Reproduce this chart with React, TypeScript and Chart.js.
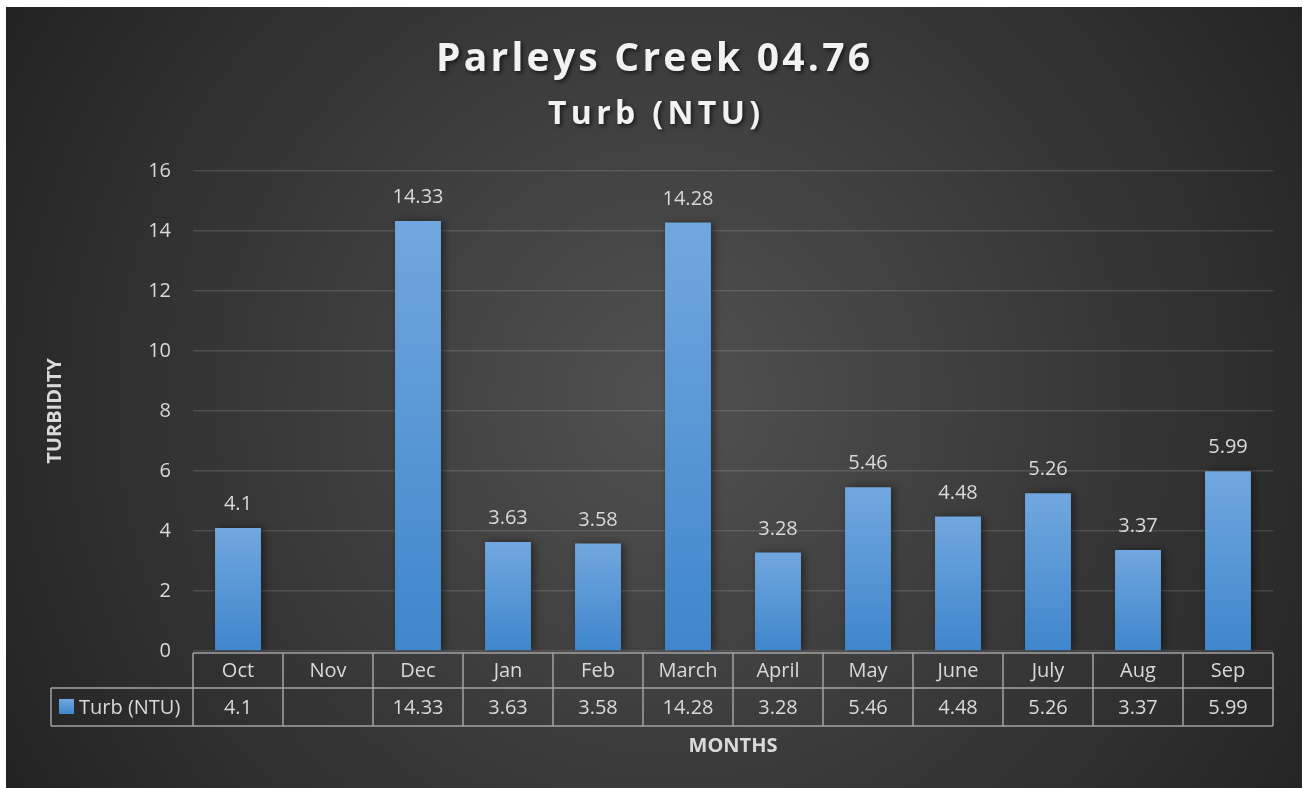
import React, { useEffect, useRef } from "react";
import { Chart, registerables } from "chart.js";

Chart.register(...registerables);

const months = ["Oct", "Nov", "Dec", "Jan", "Feb", "March", "April", "May", "June", "July", "Aug", "Sep"];
const turb: (number | null)[] = [4.1, null, 14.33, 3.63, 3.58, 14.28, 3.28, 5.46, 4.48, 5.26, 3.37, 5.99];
const seriesName = "Turb (NTU)";
const titleLine1 = "Parleys Creek 04.76";
const titleLine2 = "Turb (NTU)";
const yTitle = "TURBIDITY";
const xTitle = "MONTHS";
const yMin = 0;
const yMax = 16;
const yStep = 2;

const W = 1303;
const H = 788;
const FONT = "'Open Sans', 'DejaVu Sans', sans-serif";
const TEXT = "#d9d9d9";

function spacedText(ctx: CanvasRenderingContext2D, text: string, cx: number, y: number, target: number) {
  (ctx as any).letterSpacing = "0px";
  const w0 = ctx.measureText(text).width;
  const n = text.length;
  const sp = n > 1 ? Math.max(0, (target - w0) / (n - 1)) : 0;
  (ctx as any).letterSpacing = sp + "px";
  ctx.textAlign = "left";
  const w = w0 + sp * (n - 1);
  ctx.fillText(text, cx - w / 2, y);
  (ctx as any).letterSpacing = "0px";
}

function barGradient(ctx: CanvasRenderingContext2D, top: number, bottom: number) {
  const g = ctx.createLinearGradient(0, top, 0, bottom);
  g.addColorStop(0, "#71a7df");
  g.addColorStop(1, "#3f86cc");
  return g;
}

const framePlugin = {
  id: "frame",
  beforeDraw(chart: any) {
    const ctx: CanvasRenderingContext2D = chart.ctx;
    ctx.save();
    ctx.fillStyle = "#ffffff";
    ctx.fillRect(0, 0, W, H);
    const g = ctx.createRadialGradient(670, 400, 0, 670, 400, 780);
    g.addColorStop(0, "#515151");
    g.addColorStop(1, "#222222");
    ctx.fillStyle = g;
    ctx.fillRect(6, 7, W - 7, H - 7);

    ctx.fillStyle = "#f2f2f2";
    ctx.textBaseline = "alphabetic";
    ctx.shadowColor = "rgba(0,0,0,0.6)";
    ctx.shadowBlur = 4;
    ctx.shadowOffsetX = 2;
    ctx.shadowOffsetY = 2;
    ctx.font = `bold 39px ${FONT}`;
    spacedText(ctx, titleLine1, 653, 71, 434);
    ctx.font = `bold 32px ${FONT}`;
    spacedText(ctx, titleLine2, 654, 124, 212);
    ctx.restore();
  },
  beforeDatasetsDraw(chart: any) {
    const ctx: CanvasRenderingContext2D = chart.ctx;
    ctx.save();
    ctx.shadowColor = "rgba(0,0,0,0.45)";
    ctx.shadowBlur = 8;
    ctx.shadowOffsetX = 3;
    ctx.shadowOffsetY = 0;
  },
  afterDatasetsDraw(chart: any) {
    const ctx: CanvasRenderingContext2D = chart.ctx;
    ctx.restore();
    ctx.save();
    const meta = chart.getDatasetMeta(0);
    ctx.fillStyle = TEXT;
    ctx.font = `20px ${FONT}`;
    ctx.textAlign = "center";
    ctx.textBaseline = "alphabetic";
    meta.data.forEach((bar: any, i: number) => {
      const v = turb[i];
      if (v == null) return;
      ctx.fillText(String(v), bar.x, bar.y - 18);
    });
    ctx.restore();
  },
  afterDraw(chart: any) {
    const ctx: CanvasRenderingContext2D = chart.ctx;
    const xs = chart.scales.x;
    const area = chart.chartArea;
    const left = area.left;
    const right = area.right;
    const top = 653;
    const mid = 688;
    const bot = 726;
    const legLeft = 51;
    ctx.save();
    ctx.strokeStyle = "#a3a3a3";
    ctx.lineWidth = 1.5;
    const line = (x1: number, y1: number, x2: number, y2: number) => {
      ctx.beginPath();
      ctx.moveTo(x1, y1);
      ctx.lineTo(x2, y2);
      ctx.stroke();
    };
    line(left, top, right, top);
    line(legLeft, mid, right, mid);
    line(legLeft, bot, right, bot);
    line(legLeft, mid, legLeft, bot);
    const step = xs.getPixelForValue(1) - xs.getPixelForValue(0);
    for (let i = 0; i <= months.length; i++) {
      const xb = xs.getPixelForValue(0) - step / 2 + i * step;
      line(xb, top, xb, bot);
    }
    ctx.fillStyle = TEXT;
    ctx.font = `20px ${FONT}`;
    ctx.textAlign = "center";
    ctx.textBaseline = "middle";
    months.forEach((m, i) => {
      const cx = xs.getPixelForValue(i);
      ctx.fillText(m, cx, (top + mid) / 2 + 1);
      const v = turb[i];
      if (v != null) ctx.fillText(String(v), cx, (mid + bot) / 2 + 1);
    });
    // legend key
    ctx.fillStyle = barGradient(ctx, 699, 714);
    ctx.fillRect(59, 699, 15, 15);
    ctx.fillStyle = TEXT;
    ctx.textAlign = "left";
    ctx.fillText(seriesName, 79, (mid + bot) / 2 + 1);

    // axis titles
    ctx.font = `bold 20px ${FONT}`;
    ctx.textAlign = "center";
    ctx.fillText(xTitle, 733, 746);
    ctx.translate(55, 411);
    ctx.rotate(-Math.PI / 2);
    ctx.fillText(yTitle, 0, 0);
    ctx.restore();
  },
};

export default function App() {
  const ref = useRef<HTMLCanvasElement | null>(null);
  useEffect(() => {
    if (!ref.current) return;
    const chart = new Chart(ref.current, {
      type: "bar",
      data: {
        labels: months,
        datasets: [
          {
            label: seriesName,
            data: turb,
            backgroundColor: (c: any) => {
              const ch = c.chart;
              const ys = ch.scales && ch.scales.y;
              const v = c.raw;
              if (!ys || v == null || !ch.chartArea) return "#5b9bd5";
              return barGradient(ch.ctx, ys.getPixelForValue(v), ys.getPixelForValue(0));
            },
            borderWidth: 0,
            categoryPercentage: 1,
            barPercentage: 0.51,
          },
        ],
      },
      options: {
        responsive: false,
        maintainAspectRatio: false,
        animation: false,
        devicePixelRatio: 1,
        layout: { padding: { left: 0, top: 171, right: 30, bottom: 137 } },
        plugins: {
          legend: { display: false },
          tooltip: { enabled: false },
          title: { display: false },
        },
        scales: {
          x: {
            display: false,
            offset: true,
          },
          y: {
            min: yMin,
            max: yMax,
            ticks: {
              stepSize: yStep,
              color: TEXT,
              font: { family: FONT, size: 20 },
              padding: 22,
            },
            grid: {
              color: "rgba(255,255,255,0.13)",
              lineWidth: 1.5,
              drawTicks: false,
            },
            border: { display: false },
            afterFit: (s: any) => {
              s.width = 193;
            },
          },
        },
      },
      plugins: [framePlugin],
    });
    return () => chart.destroy();
  }, []);
  return (
    <div style={{ position: "absolute", left: 0, top: 0, width: W, height: H }}>
      <canvas ref={ref} width={W} height={H} style={{ display: "block", width: W, height: H }} />
    </div>
  );
}
